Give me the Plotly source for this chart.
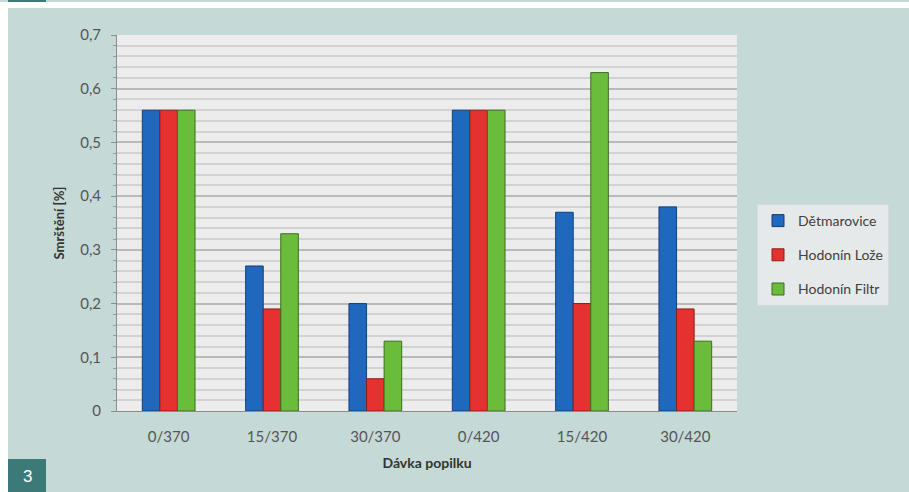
import plotly.graph_objects as go

# Ash dose / cement content categories
categories = ["0/370", "15/370", "30/370", "0/420", "15/420", "30/420"]

# Shrinkage [%] for each ash source
detmarovice = [0.56, 0.27, 0.20, 0.56, 0.37, 0.38]
hodonin_loze = [0.56, 0.19, 0.06, 0.56, 0.20, 0.19]
hodonin_filtr = [0.56, 0.33, 0.13, 0.56, 0.63, 0.13]

y_ticks = [0, 0.1, 0.2, 0.3, 0.4, 0.5, 0.6, 0.7]
y_tick_labels = ["0", "0,1", "0,2", "0,3", "0,4", "0,5", "0,6", "0,7"]

series = [
    ("Dětmarovice", detmarovice, "#1f68bd", "#123f78"),
    ("Hodonín Lože", hodonin_loze, "#e5322f", "#8c1c1a"),
    ("Hodonín Filtr", hodonin_filtr, "#6cbc3c", "#3b6e1f"),
]

FONT = "Lato, 'Open Sans', sans-serif"
TEAL_BG = "#c5d9d7"

fig = go.Figure()
for i, (name, vals, color, edge) in enumerate(series):
    fig.add_trace(go.Bar(
        x=categories, y=vals, name=name,
        legendgroup=f"g{i}",
        marker=dict(color=color, line=dict(color=edge, width=1)),
    ))

W, H = 909, 492
L, R, T, B = 117, 172, 35, 81
pw, ph = W - L - R, H - T - B


def px_x(px):
    return (px - L) / pw


def px_y(py):
    return (H - B - py) / ph


shapes = [
    # white frame strips along the top and left edges
    dict(type="rect", xref="paper", yref="paper", layer="below",
         x0=px_x(0), x1=px_x(W), y0=px_y(8), y1=px_y(2),
         fillcolor="white", line_width=0),
    dict(type="rect", xref="paper", yref="paper", layer="below",
         x0=px_x(0), x1=px_x(8), y0=px_y(H), y1=px_y(2),
         fillcolor="white", line_width=0),
    # dark teal tab on top and figure-number box
    dict(type="rect", xref="paper", yref="paper", layer="below",
         x0=px_x(8), x1=px_x(46), y0=px_y(2), y1=px_y(0),
         fillcolor="#3c7a78", line_width=0),
    dict(type="rect", xref="paper", yref="paper", layer="below",
         x0=px_x(8), x1=px_x(46), y0=px_y(H), y1=px_y(459),
         fillcolor="#3c7a78", line_width=0),
]

fig.update_layout(
    width=W, height=H,
    margin=dict(l=L, r=R, t=T, b=B, pad=0),
    paper_bgcolor=TEAL_BG,
    plot_bgcolor="#ececec",
    barmode="group",
    bargap=0.49,
    bargroupgap=0,
    font=dict(family=FONT, color="#555555", size=14),
    shapes=shapes,
    annotations=[
        dict(text="3", xref="paper", yref="paper",
             x=px_x(27), y=px_y(476), xanchor="center", yanchor="middle",
             showarrow=False,
             font=dict(family="Liberation Sans, Arial, sans-serif", size=17, color="white")),
    ],
    legend=dict(
        x=px_x(757), y=px_y(204), xanchor="left", yanchor="top",
        bgcolor="#e6e9e9", bordercolor="#d3dcdc", borderwidth=1,
        font=dict(family=FONT, size=14, color="#404040"),
        traceorder="grouped", tracegroupgap=13,
        itemwidth=30,
    ),
    showlegend=True,
)

fig.update_xaxes(
    showline=True, linecolor="#8c8c8c", linewidth=1,
    ticks="", showgrid=False,
    ticklabelstandoff=12,
    tickfont=dict(family=FONT, size=15, color="#555555"),
    title=dict(text="<b>Dávka popilku</b>", standoff=14,
               font=dict(family=FONT, size=14, color="#333333")),
)

fig.update_yaxes(
    range=[0, 0.7],
    tickvals=y_ticks, ticktext=y_tick_labels,
    showline=True, linecolor="#8c8c8c", linewidth=1,
    ticks="outside", ticklen=5, tickcolor="#8c8c8c",
    ticklabelstandoff=7,
    showgrid=True, gridcolor="#b9b9b9", gridwidth=2,
    zeroline=False,
    minor=dict(dtick=0.02, showgrid=True, gridcolor="#d2d2d2", gridwidth=2,
               ticks="outside", ticklen=3, tickcolor="#9a9a9a"),
    tickfont=dict(family=FONT, size=15, color="#555555"),
    title=dict(text="<b>Smrštění [%]</b>", standoff=12,
               font=dict(family=FONT, size=13, color="#333333")),
)

fig.write_html("out.html")
